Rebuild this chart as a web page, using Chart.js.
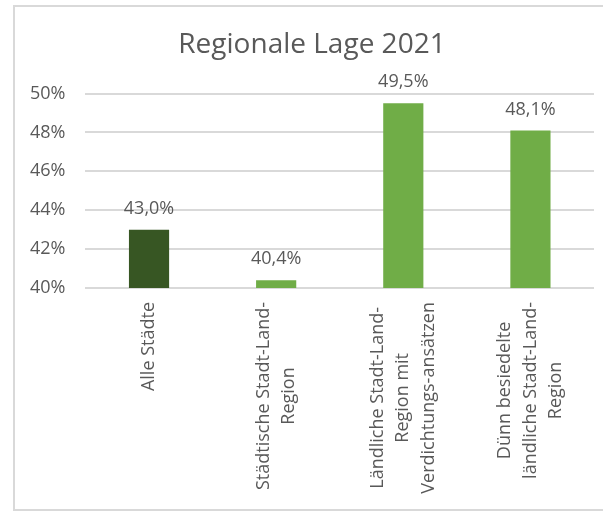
<!DOCTYPE html>
<html>
<head>
<meta charset="utf-8">
<script src="https://cdn.jsdelivr.net/npm/chart.js@4.4.1/dist/chart.umd.min.js"></script>
<style>
  html, body { margin: 0; padding: 0; background: #fff; overflow: hidden; }
  body { width: 603px; height: 511px; position: relative; }
  #box { position: absolute; left: 13px; top: 5px; width: 620px; height: 502px; border: 2px solid #D9D9D9; }
  #wrap { position: absolute; left: 0; top: 0; width: 600px; height: 502px; }
</style>
</head>
<body>
<div id="box"><div id="wrap"><canvas id="lageChart"></canvas></div></div>
<script>
const categories = [
  ["Alle Städte"],
  ["Städtische Stadt-Land-", "Region"],
  ["Ländliche Stadt-Land-", "Region mit", "Verdichtungs-ansätzen"],
  ["Dünn besiedelte", "ländliche Stadt-Land-", "Region"]
];
const shares = [43.0, 40.4, 49.5, 48.1];
const yTicks = [40, 42, 44, 46, 48, 50];

const textColor = "#595959";
const fontFamily = "'Open Sans', 'Noto Sans', sans-serif";

// percent with german decimal comma
const fmt = (v, d) => v.toFixed(d).replace(".", ",") + "%";

// value labels above the bars
const valueLabels = {
  id: "valueLabels",
  afterDatasetsDraw(chart) {
    const ctx = chart.ctx;
    const meta = chart.getDatasetMeta(0);
    ctx.save();
    ctx.font = "18px " + fontFamily;
    ctx.fillStyle = textColor;
    ctx.textAlign = "center";
    ctx.textBaseline = "alphabetic";
    meta.data.forEach((bar, i) => {
      ctx.fillText(fmt(shares[i], 1), bar.x, bar.y - 16);
    });
    ctx.restore();
  }
};

// rotated category labels, each line centred in its block like Excel
const rotatedLabels = {
  id: "rotatedLabels",
  afterDraw(chart) {
    const ctx = chart.ctx;
    const xs = chart.scales.x;
    const lh = 25.5;
    ctx.save();
    ctx.font = "18px " + fontFamily;
    ctx.fillStyle = textColor;
    ctx.textAlign = "center";
    ctx.textBaseline = "middle";
    categories.forEach((lines, i) => {
      const x = xs.getPixelForValue(i);
      const w = Math.max(...lines.map(l => ctx.measureText(l).width));
      ctx.save();
      ctx.translate(x, xs.top + 14);
      ctx.rotate(-Math.PI / 2);
      lines.forEach((l, j) => {
        ctx.fillText(l, -w / 2, (j - (lines.length - 1) / 2) * lh);
      });
      ctx.restore();
    });
    ctx.restore();
  }
};

new Chart(document.getElementById("lageChart"), {
  type: "bar",
  data: {
    labels: categories,
    datasets: [{
      data: shares,
      backgroundColor: ["#375623", "#70AD47", "#70AD47", "#70AD47"],
      categoryPercentage: 1,
      barPercentage: 0.316
    }]
  },
  options: {
    responsive: true,
    maintainAspectRatio: false,
    animation: false,
    layout: { padding: { left: 15, right: 21, top: 0, bottom: 0 } },
    plugins: {
      legend: { display: false },
      tooltip: { enabled: false },
      title: {
        display: true,
        text: "Regionale Lage 2021",
        color: textColor,
        font: { family: fontFamily, size: 28, weight: "normal" },
        padding: { top: 21, bottom: 32 }
      }
    },
    scales: {
      x: {
        grid: { display: false },
        border: { display: false },
        ticks: { display: false },
        afterFit: s => { s.height = 221; }
      },
      y: {
        min: 40,
        max: 50,
        afterBuildTicks: s => { s.ticks = yTicks.map(v => ({ value: v })); },
        // chart.js reserves the tick padding on both sides; keep only one
        afterFit: s => { s.width -= s.options.ticks.padding; },
        grid: { color: "#D9D9D9", lineWidth: 2, drawTicks: false },
        border: { display: false },
        ticks: {
          padding: 20,
          color: textColor,
          font: { family: fontFamily, size: 18 },
          callback: v => v + "%"
        }
      }
    }
  },
  plugins: [valueLabels, rotatedLabels]
});
</script>
</body>
</html>
